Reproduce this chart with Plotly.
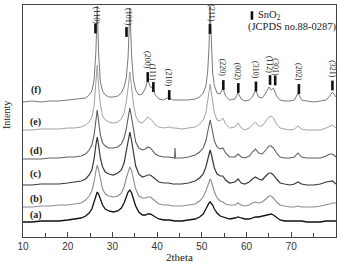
import plotly.graph_objects as go

# 2theta grid (degrees)
two_theta = [10, 12, 14, 16, 18, 20, 21.5, 23, 24, 24.8, 25.4, 25.9, 26.3, 26.6, 26.9, 27.3, 27.8, 28.4,
             29.2, 30.2, 31.2, 32.0, 32.6, 33.1, 33.5, 33.9, 34.3, 34.7, 35.2, 35.9, 36.7, 37.4, 37.9, 38.5,
             39.0, 39.6, 40.4, 41.5, 42.6, 43.5, 43.9, 44.0, 44.1, 45.5, 47, 48.5, 49.5, 50.3, 50.9, 51.3,
             51.6, 51.85, 52.1, 52.4, 52.8, 53.4, 54.1, 54.7, 55.3, 56.2, 57.4, 58.1, 58.8, 59.6, 60.6, 61.3,
             62.0, 62.7, 63.5, 64.3, 65.0, 65.5, 66.0, 66.7, 67.5, 68.5, 69.7, 70.7, 71.5, 72.3, 73.5, 75,
             76.5, 77.8, 78.6, 79.2, 80]

# intensities (a.u.) above each pattern's own baseline
int_a = [0, 0, 1, 1, 1, 2, 3, 4, 6, 9, 13, 20, 27, 30, 28, 23, 17, 13,
         11, 10, 11, 14, 19, 25, 30, 32, 29, 23, 16, 10, 7, 7, 8, 8,
         7, 5, 3, 2, 2, 1, 1, 1, 1, 1, 2, 3, 5, 8, 13, 17,
         19, 20, 19, 17, 13, 9, 6, 5, 4, 3, 4, 5, 4, 3, 3, 4,
         5, 5, 6, 7, 8, 8, 7, 5, 2, 1, 1, 1, 1, 1, 0, 0,
         0, 1, 1, 1, 1]
int_b = [0, 0, 1, 1, 2, 2, 3, 4, 7, 11, 16, 25, 36, 42, 37, 27, 18, 13,
         11, 10, 11, 14, 20, 29, 36, 40, 36, 27, 18, 11, 9, 9, 10, 10,
         8, 6, 3, 2, 2, 1, 1, 1, 1, 1, 2, 3, 6, 10, 16, 22,
         26, 28, 26, 21, 15, 9, 6, 5, 3, 2, 2, 4, 2, 1, 2, 4,
         5, 4, 5, 8, 11, 11, 9, 5, 2, 1, 0, 0, 1, 0, 0, 0,
         1, 2, 3, 4, 4]
int_c = [0, 0, 1, 1, 1, 2, 3, 4, 6, 10, 15, 26, 40, 48, 40, 27, 18, 13,
         11, 10, 12, 15, 22, 33, 45, 53, 44, 31, 19, 11, 8, 9, 10, 10,
         8, 6, 3, 2, 2, 1, 1, 1, 1, 1, 2, 4, 7, 11, 18, 26,
         32, 35, 31, 25, 17, 11, 9, 9, 5, 2, 3, 6, 2, 1, 3, 6,
         8, 6, 5, 9, 12, 12, 10, 6, 2, 1, 0, 1, 3, 1, 0, 0,
         1, 3, 4, 4, 1]
int_d = [0, 0, 0, 1, 1, 2, 2, 3, 5, 9, 14, 24, 38, 49, 38, 24, 16, 13,
         11, 11, 12, 15, 21, 30, 41, 51, 41, 28, 17, 11, 9, 10, 12, 11,
         8, 5, 3, 2, 2, 1, 1, 11, 1, 1, 2, 4, 7, 11, 18, 27,
         35, 39, 34, 26, 18, 12, 10, 11, 6, 2, 2, 5, 2, 1, 3, 7,
         10, 6, 5, 9, 13, 13, 11, 6, 2, 1, 1, 2, 6, 2, 1, 1,
         1, 3, 5, 5, 2]
int_e = [0, 0, 1, 1, 1, 2, 2, 3, 5, 8, 13, 24, 45, 65, 44, 25, 14, 10,
         8, 7, 8, 11, 17, 28, 42, 58, 42, 26, 14, 8, 7, 10, 13, 11,
         9, 5, 3, 2, 3, 2, 2, 2, 2, 1, 2, 3, 6, 10, 17, 27,
         38, 46, 38, 27, 17, 10, 9, 12, 6, 2, 3, 7, 2, 0, 2, 5,
         8, 4, 4, 9, 13, 14, 12, 6, 2, 1, 0, 1, 4, 1, 0, 0,
         0, 2, 4, 5, 2]
int_f = [0, 1, 0, 1, 1, 2, 2, 3, 4, 7, 11, 22, 50, 96, 50, 20, 11, 7,
         5, 5, 6, 9, 15, 24, 45, 94, 45, 22, 12, 7, 8, 14, 22, 15,
         14, 7, 3, 2, 5, 2, 2, 2, 2, 2, 2, 3, 5, 9, 16, 30,
         55, 96, 55, 30, 16, 9, 8, 14, 6, 2, 3, 9, 3, 1, 2, 5,
         12, 5, 4, 9, 15, 12, 14, 6, 2, 1, 1, 2, 9, 2, 1, 0,
         1, 2, 6, 10, 5]

sample_labels = ["(a)", "(b)", "(c)", "(d)", "(e)", "(f)"]
sample_offsets = [15, 30, 52, 78, 107, 135]
sample_colors = ["#111111", "#8c8c8c", "#383838", "#5e5e5e", "#a2a2a2", "#7a7a7a"]
sample_widths = [1.3, 1.1, 1.2, 1.1, 1.0, 1.0]
series = [int_a, int_b, int_c, int_d, int_e, int_f]

# SnO2 reference reflections (JCPDS no.88-0287), as drawn
hkl_labels = ["(110)", "(101)", "(200)", "(111)", "(210)", "(211)", "(220)", "(002)",
              "(310)", "(112)", "(301)", "(202)", "(321)"]
hkl_bar_x = [26.2, 33.15, 37.9, 39.15, 42.7, 51.8, 54.8, 58.15, 62.1, 65.25, 66.4, 71.7, 79.2]
hkl_label_x = [26.6, 33.7, 37.95, 39.15, 42.7, 52.2, 54.8, 58.15, 62.1, 65.25, 66.4, 71.7, 79.3]
hkl_bar_y = [208.5, 205, 160, 150, 142, 208, 152, 149, 150.5, 157, 156.5, 148, 151.5]
hkl_label_y = [222, 220, 177, 165, 159, 224, 169, 165, 167, 173, 169.5, 165, 168]

fig = go.Figure()
for lab, off, col, lw, vals in zip(sample_labels, sample_offsets, sample_colors, sample_widths, series):
    fig.add_trace(go.Scatter(x=two_theta, y=[v + off for v in vals], mode="lines",
                             line=dict(color=col, width=lw), name=lab, showlegend=False))

fig.add_trace(go.Scatter(x=hkl_bar_x, y=hkl_bar_y, mode="markers",
                         marker=dict(symbol="line-ns", size=7, line=dict(color="#111111", width=2.6)),
                         showlegend=False))
# legend bar
fig.add_trace(go.Scatter(x=[61.2], y=[221.5], mode="markers",
                         marker=dict(symbol="line-ns", size=6, line=dict(color="#111111", width=2.6)),
                         showlegend=False))

serif = "Liberation Serif"
ann = []
for t, x, y in zip(hkl_labels, hkl_label_x, hkl_label_y):
    ann.append(dict(x=x, y=y, text=t, showarrow=False, textangle=90,
                    font=dict(family=serif, size=8, color="#222222"),
                    xanchor="center", yanchor="middle"))
label_y = [22, 38, 63, 86, 115, 147]
for t, y in zip(sample_labels, label_y):
    ann.append(dict(x=12.9, y=y, text="<b>" + t + "</b>", showarrow=False,
                    font=dict(family=serif, size=10, color="#222222"),
                    xanchor="center", yanchor="middle"))
ann.append(dict(x=62.0, y=222, text="SnO<sub>2</sub>", showarrow=False, xanchor="left", yanchor="middle",
                font=dict(family=serif, size=10.5, color="#222222")))
ann.append(dict(x=59.8, y=210, text="(JCPDS no.88-0287)", showarrow=False, xanchor="left", yanchor="middle",
                font=dict(family=serif, size=10.5, color="#222222")))
ann.append(dict(x=0.5, y=-0.086, xref="paper", yref="paper", text="2theta", showarrow=False,
                xanchor="center", yanchor="middle", font=dict(family=serif, size=11, color="#222222")))
ann.append(dict(x=-0.051, y=0.526, xref="paper", yref="paper", text="Intenty", showarrow=False,
                textangle=-90, xanchor="center", yanchor="middle",
                font=dict(family=serif, size=10, color="#222222")))

fig.update_layout(
    width=341, height=263,
    margin=dict(l=23, r=5, t=5, b=26),
    plot_bgcolor="white", paper_bgcolor="white",
    annotations=ann,
    xaxis=dict(range=[10, 80], dtick=10, tick0=10, ticks="inside", ticklen=5, tickcolor="#444444",
               showline=True, mirror=True, linecolor="#444444", linewidth=1, showgrid=False, zeroline=False,
               tickfont=dict(family="Liberation Sans", size=10, color="#333333"),
               minor=dict(ticks="inside", dtick=5, ticklen=4, tickcolor="#444444")),
    yaxis=dict(range=[0, 232], showticklabels=False, ticks="", showline=True, mirror=True,
               linecolor="#444444", linewidth=1, showgrid=False, zeroline=False),
)

fig.write_html("out.html")
